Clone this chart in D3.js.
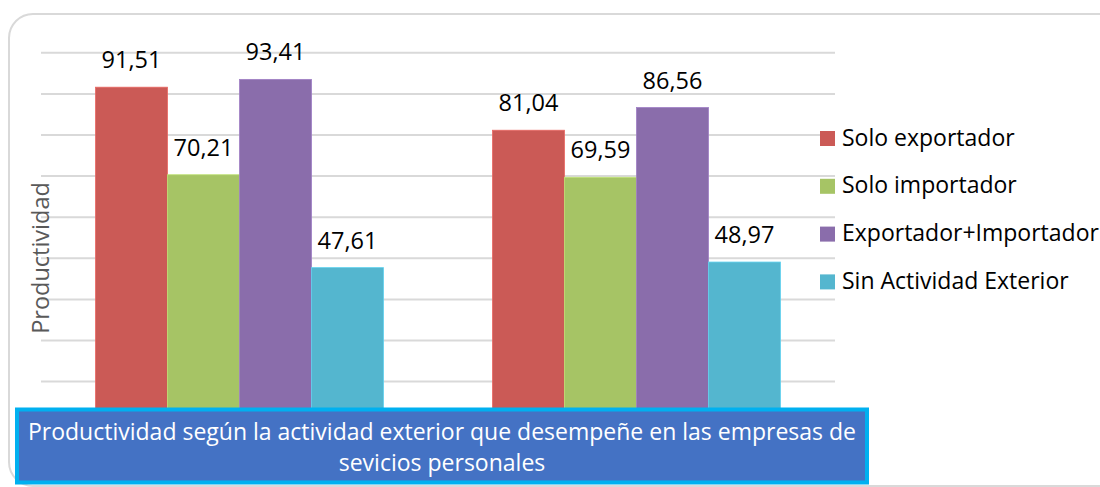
<!DOCTYPE html>
<html>
<head>
<meta charset="utf-8">
<script src="https://cdn.jsdelivr.net/npm/d3@7/dist/d3.min.js"></script>
<style>
  html, body { margin: 0; padding: 0; background: #fff; }
  svg { display: block; font-family: "Open Sans", "Noto Sans", sans-serif; }
</style>
</head>
<body>
<svg id="chart" width="1100" height="487"></svg>
<script>
const categories = ["Grupo 1", "Grupo 2"];
const seriesNames = ["Solo exportador", "Solo importador", "Exportador+Importador", "Sin Actividad Exterior"];
const seriesColors = ["#CB5A56", "#A6C465", "#8A6DAB", "#54B6CF"];
const soloExportador = [91.51, 81.04];
const soloImportador = [70.21, 69.59];
const exportadorImportador = [93.41, 86.56];
const sinActividad = [47.61, 48.97];
const yTicks = [0, 10, 20, 30, 40, 50, 60, 70, 80, 90, 100];
const titleLines = ["Productividad según la actividad exterior que desempeñe en las empresas de", "sevicios personales"];
const yTitle = "Productividad";

const seriesValues = [soloExportador, soloImportador, exportadorImportador, sinActividad];
const fmt = v => v.toFixed(2).replace(".", ",");

const svg = d3.select("#chart");

// outer rounded border
svg.append("rect")
  .attr("x", 9).attr("y", 14).attr("width", 1115).attr("height", 472)
  .attr("rx", 24).attr("ry", 24)
  .attr("fill", "#fff").attr("stroke", "#d9d9d9").attr("stroke-width", 2);

const plot = { left: 41, right: 835, top: 52.3, bottom: 463.3 };

const x0 = d3.scaleBand().domain(categories).range([plot.left, plot.right])
  .paddingInner(0.2745).paddingOuter(0.1373);
const x1 = d3.scaleBand().domain(seriesNames).range([0, x0.bandwidth()]);
const y = d3.scaleLinear().domain([0, 100]).range([plot.bottom, plot.top]);

// gridlines via axis
const grid = svg.append("g")
  .attr("transform", `translate(${plot.left},0)`)
  .call(d3.axisLeft(y).tickValues(yTicks).tickSize(-(plot.right - plot.left)).tickFormat(""));
grid.select(".domain").remove();
grid.selectAll(".tick line").attr("stroke", "#d9d9d9").attr("stroke-width", 2);

// bars
const groups = svg.append("g").selectAll("g")
  .data(categories).join("g")
  .attr("transform", d => `translate(${x0(d)},0)`);

groups.selectAll("rect")
  .data((c, ci) => seriesNames.map((s, si) => ({ s, si, v: seriesValues[si][ci] })))
  .join("rect")
  .attr("x", d => x1(d.s))
  .attr("y", d => y(d.v))
  .attr("width", x1.bandwidth())
  .attr("height", d => y(0) - y(d.v))
  .attr("fill", d => seriesColors[d.si])
  .attr("stroke", d => d3.color(seriesColors[d.si]).brighter(0.4))
  .attr("stroke-width", 0.8);

groups.selectAll("text")
  .data((c, ci) => seriesNames.map((s, si) => ({ s, si, v: seriesValues[si][ci] })))
  .join("text")
  .attr("x", d => x1(d.s) + x1.bandwidth() / 2)
  .attr("y", d => y(d.v) - 19)
  .attr("text-anchor", "middle")
  .attr("font-size", 23.5)
  .attr("fill", "#000")
  .text(d => fmt(d.v));

// y axis title
svg.append("text")
  .attr("transform", "translate(49,258) rotate(-90)")
  .attr("text-anchor", "middle")
  .attr("font-size", 23.5)
  .attr("fill", "#595959")
  .text(yTitle);

// legend
const legend = svg.append("g").selectAll("g")
  .data(seriesNames).join("g")
  .attr("transform", (d, i) => `translate(820,${131 + i * 47.8})`);
legend.append("rect")
  .attr("width", 15).attr("height", 15)
  .attr("fill", (d, i) => seriesColors[i]);
legend.append("text")
  .attr("x", 22).attr("y", 14.5)
  .attr("font-size", 23)
  .attr("fill", "#000")
  .text(d => d);

// title box
svg.append("rect")
  .attr("x", 17).attr("y", 409.5).attr("width", 850).attr("height", 73)
  .attr("fill", "#4472C4").attr("stroke", "#00B0F0").attr("stroke-width", 4);
svg.append("g").selectAll("text")
  .data(titleLines).join("text")
  .attr("x", 442)
  .attr("y", (d, i) => 439.5 + i * 31)
  .attr("text-anchor", "middle")
  .attr("font-size", 23)
  .attr("fill", "#fff")
  .text(d => d);
</script>
</body>
</html>
